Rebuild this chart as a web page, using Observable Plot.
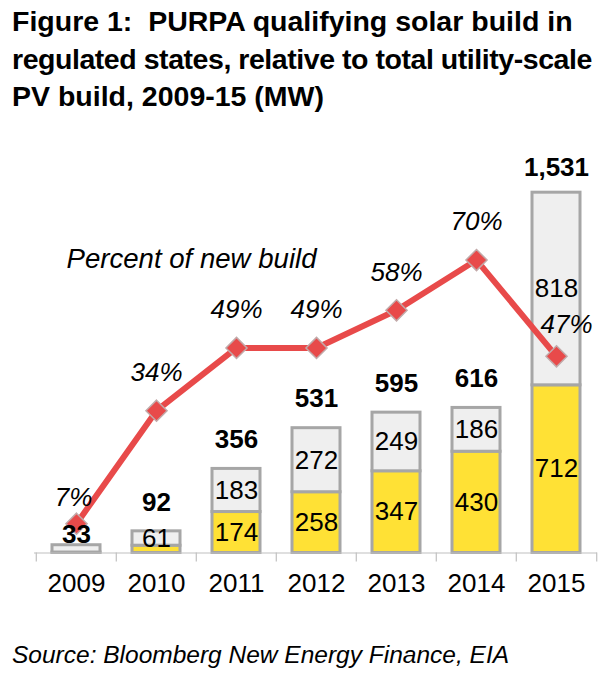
<!DOCTYPE html>
<html>
<head>
<meta charset="utf-8">
<script src="https://cdn.jsdelivr.net/npm/d3@7"></script>
<script src="https://cdn.jsdelivr.net/npm/@observablehq/plot@0.6"></script>
<style>
  html, body { margin: 0; padding: 0; background: #fff; }
  body { width: 610px; height: 680px; font-family: "Liberation Sans", Arial, sans-serif; color: #000; overflow: hidden; }
  #title { margin: 3px 0 0 12px; font-size: 28.5px; font-weight: bold; line-height: 37.5px; white-space: pre; }
  #title .l2 { letter-spacing: -0.45px; }
  #chart { height: 500px; }
  #source { margin: 24px 0 0 12px; font-size: 24.5px; font-style: italic; line-height: 30px; }
</style>
</head>
<body>
<div id="title"><div>Figure 1:  PURPA qualifying solar build in</div><div class="l2">regulated states, relative to total utility-scale</div><div>PV build, 2009-15 (MW)</div></div>
<div id="chart"></div>
<div id="source">Source: Bloomberg New Energy Finance, EIA</div>
<script>
// ---- data ----
const years = ["2009", "2010", "2011", "2012", "2013", "2014", "2015"];
const purpa = [2, 31, 174, 258, 347, 430, 712];      // PURPA qualifying (MW)
const other = [31, 61, 183, 272, 249, 186, 818];     // other utility-scale PV (MW)
const totals = [33, 92, 356, 531, 595, 616, 1531];   // total labels (MW)
const pct = [7, 34, 49, 49, 58, 70, 47];             // percent of new build

// ---- derived tables ----
const stacked = [];
years.forEach((y, i) => {
  stacked.push({year: y, series: "PURPA", value: purpa[i]});
  stacked.push({year: y, series: "Other", value: other[i]});
});
const totalData = years.map((y, i) => ({year: y, total: totals[i]}));
const pctData = years.map((y, i) => ({year: y, pct: pct[i]}));

const W = 610, H = 500, mL = 34, mR = 13, mT = 12.6, mB = 63.5;
const step = (W - mL - mR) / years.length;
// secondary (percent) axis mapped onto the MW axis
const pctScale = d3.scaleLinear().domain([0, 100]).range([0, 1777]);
const yellow = "#ffe135", light = "#efefef", edge = "#a6a6a6", red = "#e84a4a";
const fmt = d3.format(",");
const first = years[0], last = years[years.length - 1];

const chart = Plot.plot({
  width: W, height: H,
  marginLeft: mL, marginRight: mR, marginTop: mT, marginBottom: mB,
  style: {fontFamily: "'Liberation Sans', Arial, sans-serif", fontSize: "26px", color: "#000", background: "#fff", overflow: "visible"},
  x: {domain: years, paddingInner: 0.4, paddingOuter: 0.2, label: null},
  y: {domain: [0, 1800], axis: null},
  color: {domain: ["PURPA", "Other"], range: [yellow, light]},
  marks: [
    Plot.barY(stacked, {x: "year", y: "value", fill: "series", stroke: edge, strokeWidth: 3}),
    Plot.ruleY([0], {stroke: "#c0c0c0", strokeWidth: 1.2}),
    Plot.ruleX(years, {x: d => d, y1: 0, y2: 0, insetBottom: -9, dx: -step / 2, stroke: "#c0c0c0", strokeWidth: 1.2}),
    Plot.ruleX([last], {x: d => d, y1: 0, y2: 0, insetBottom: -9, dx: step / 2, stroke: "#c0c0c0", strokeWidth: 1.2}),
    Plot.axisX({tickSize: 0, tickPadding: 21, fontSize: 26, label: null}),
    Plot.line(pctData, {x: "year", y: d => pctScale(d.pct), stroke: red, strokeWidth: 6}),
    Plot.dot(pctData, {x: "year", y: d => pctScale(d.pct), symbol: "diamond2", r: 9.5, fill: red, stroke: "#c2a9a9", strokeWidth: 1.5}),
    Plot.text(stacked, Plot.stackY({x: "year", y: "value", text: d => d.value >= 50 ? String(d.value) : "", fontSize: 26})),
    Plot.text(totalData.filter(d => d.year !== first && d.year !== last), {x: "year", y: "total", text: d => fmt(d.total), dy: -29, fontSize: 26, fontWeight: "bold"}),
    Plot.text(totalData.filter(d => d.year === last), {x: "year", y: "total", text: d => fmt(d.total), dy: -25, fontSize: 26, fontWeight: "bold"}),
    Plot.text(totalData.filter(d => d.year === first), {x: "year", y: "total", text: d => fmt(d.total), dy: -11, fontSize: 26, fontWeight: "bold"}),
    Plot.text(pctData.filter(d => d.year !== first && d.year !== last), {x: "year", y: d => pctScale(d.pct), text: d => d.pct + "%", dy: -38, fontSize: 26, fontStyle: "italic"}),
    Plot.text(pctData.filter(d => d.year === first), {x: "year", y: d => pctScale(d.pct), text: d => d.pct + "%", dy: -26, dx: -3, fontSize: 26, fontStyle: "italic"}),
    Plot.text(pctData.filter(d => d.year === last), {x: "year", y: d => pctScale(d.pct), text: d => d.pct + "%", dy: -32, dx: 10, fontSize: 26, fontStyle: "italic"}),
    Plot.text(["Percent of new build"], {frameAnchor: "top-left", dx: 157, dy: 130, textAnchor: "middle", lineAnchor: "middle", fontSize: 27.6, fontStyle: "italic"})
  ]
});
document.getElementById("chart").appendChild(chart);
</script>
</body>
</html>
